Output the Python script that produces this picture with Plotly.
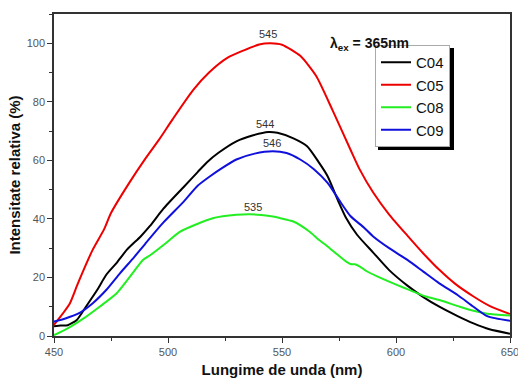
import plotly.graph_objects as go

# ---- data ----
x_c04 = [450, 453, 456, 460, 464, 469, 473, 477.5, 482, 488, 492, 498, 507, 513, 517, 522, 530, 537, 544, 548,
         555, 561, 566, 570, 575, 578, 583, 590, 597, 605, 612, 619, 627, 634, 641, 650]
y_c04 = [3.3, 3.6, 3.7, 5.5, 10, 15.8, 21, 25, 29.5, 34, 37.5, 43.5, 51, 56, 59.3, 62.5, 66.5, 68.5, 69.7, 69.4,
         67.5, 64.8, 59.5, 54.6, 45.5, 40.5, 34.5, 28.5, 22.5, 17.2, 13.3, 10, 6.8, 4.3, 2.3, 0.8]

x_c05 = [450, 454, 457, 460, 463, 467, 472, 475, 483, 490, 496, 502, 511, 518, 526, 533, 540, 545, 550,
         558, 565, 572, 580, 584, 590, 597, 605, 612, 619, 626, 634, 641, 650]
y_c05 = [3.8, 7.8, 11.2, 17, 22.6, 29.5, 36.5, 42, 52.3, 60.5, 67, 74, 84, 90, 95, 97.5, 99.6, 100, 99.5,
         95.7, 88.8, 77.4, 63.7, 57, 49, 41.5, 34.3, 28.2, 22.6, 17.8, 13.5, 10.3, 7.5]

x_c08 = [450, 456, 463, 470, 477.5, 485, 489, 492, 499, 505, 512, 520, 530, 536, 541, 546, 549, 555, 562, 566,
         570, 574, 578, 580, 582, 584, 587, 592, 604, 613, 619, 628, 634, 640, 650]
y_c08 = [0.3, 2.6, 6, 10, 14.6, 22, 26, 27.5, 31.7, 35.5, 38, 40.3, 41.4, 41.6, 41.3, 40.8, 40.3, 39.1, 35.7, 33,
         30.6, 28, 25.5, 24.6, 24.5, 23.8, 22.2, 20.3, 16.3, 13.5, 12.3, 10, 8.6, 7.6, 7.0]

x_c09 = [450, 455, 461, 467, 473, 479, 485, 490, 498, 507, 513, 518, 524, 530, 538, 546, 552, 558, 564,
         570, 575, 580, 586, 590, 597, 605, 612, 619, 627, 634, 640, 650]
y_c09 = [4.9, 6, 7.8, 11.2, 15.8, 21.5, 26.8, 31.5, 38.8, 46, 51.3, 54.3, 57.5, 60.3, 62.3, 63.1, 62.5, 60.3, 57,
         52.3, 46.5, 41, 37, 34, 30, 26, 22, 18, 14, 10, 6.8, 5.2]

series_names = ["C04", "C05", "C08", "C09"]
series_colors = ["#000000", "#ee0000", "#22ee22", "#1010dd"]
series_x = [x_c04, x_c05, x_c08, x_c09]
series_y = [y_c04, y_c05, y_c08, y_c09]

peak_labels = ["544", "545", "535", "546"]
peak_x = [542.5, 543.9, 537.3, 545.6]
peak_y = [72.3, 103.0, 44.2, 65.8]

x_ticks = [450, 500, 550, 600, 650]
y_ticks = [0, 20, 40, 60, 80, 100]

# ---- figure ----
W, H = 518, 378
ML, MR, MT, MB = 54, 8, 14, 42

def px_to_paper(px, py):
    return (px - ML) / (W - ML - MR), (H - MB - py) / (H - MT - MB)

fig = go.Figure()

for name, col, xs, ys in zip(series_names, series_colors, series_x, series_y):
    fig.add_trace(go.Scatter(x=xs, y=ys, mode="lines", name=name,
                             line=dict(color=col, width=2, shape="spline", smoothing=0.6)))

for t, xv, yv in zip(peak_labels, peak_x, peak_y):
    fig.add_annotation(x=xv, y=yv, text=t, showarrow=False,
                       font=dict(family="Arial", size=11, color="#333333"))

lx, ly = px_to_paper(411, 33)
fig.add_annotation(xref="paper", yref="paper", x=lx, y=ly, text="<b>λ<sub>ex</sub> = 365nm</b>",
                   showarrow=False, font=dict(family="Arial", size=14, color="#111111"))

# legend shadow (legend itself is drawn on top of it)
sx0, sy0 = px_to_paper(378, 150)
sx1, sy1 = px_to_paper(454, 48)
fig.add_shape(type="rect", xref="paper", yref="paper", x0=sx0, y0=sy0, x1=sx1, y1=sy1,
              fillcolor="#000000", line=dict(width=0), layer="above")

legx, legy = px_to_paper(375, 45)

tick_common = dict(showline=True, linecolor="#333333", linewidth=1.5, mirror=True, showgrid=False,
                   zeroline=False, ticks="outside", ticklen=5, tickwidth=1.2, tickcolor="#333333",
                   tickfont=dict(family="Arial", size=11, color="#555555"), automargin=False,
                   ticklabeloverflow="allow")

fig.update_layout(
    width=W, height=H, margin=dict(l=ML, r=MR, t=MT, b=MB, autoexpand=False),
    paper_bgcolor="white", plot_bgcolor="white",
    showlegend=True,
    legend=dict(x=legx, y=legy, xanchor="left", yanchor="top", bgcolor="white",
                bordercolor="#aaaaaa", borderwidth=1, itemwidth=30,
                font=dict(family="Arial", size=15, color="#111111")),
    xaxis=dict(range=[450, 650], tickvals=x_ticks, ticktext=[str(v) for v in x_ticks],
               minor=dict(tickvals=[475, 525, 575, 625], ticks="outside", ticklen=3, tickwidth=1.2, tickcolor="#333333"),
               title=dict(text="<b>Lungime de unda (nm)</b>", standoff=9,
                          font=dict(family="Arial", size=15, color="#111111")),
               **tick_common),
    yaxis=dict(range=[0, 110], tickvals=y_ticks, ticktext=[str(v) for v in y_ticks],
               minor=dict(tickvals=[10, 30, 50, 70, 90, 110], ticks="outside", ticklen=3, tickwidth=1.2, tickcolor="#333333"),
               title=dict(text="<b>Intensitate relativa (%)</b>", standoff=2,
                          font=dict(family="Arial", size=15, color="#111111")),
               **tick_common),
)

fig.write_html("out.html")
